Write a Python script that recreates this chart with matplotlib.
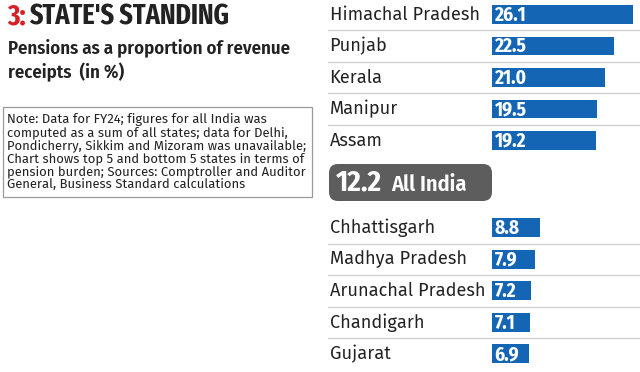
import matplotlib.pyplot as plt
from matplotlib.patches import FancyBboxPatch, Rectangle

# --- Data ---
top_states = ["Himachal Pradesh", "Punjab", "Kerala", "Manipur", "Assam"]
top_values = [26.1, 22.5, 21.0, 19.5, 19.2]
bottom_states = ["Chhattisgarh", "Madhya Pradesh", "Arunachal Pradesh", "Chandigarh", "Gujarat"]
bottom_values = [8.8, 7.9, 7.2, 7.1, 6.9]
all_india = 12.2

note = ("Note: Data for FY24; figures for all India was\n"
        "computed as a sum of all states; data for Delhi,\n"
        "Pondicherry, Sikkim and Mizoram was unavailable;\n"
        "Chart shows top 5 and bottom 5 states in terms of\n"
        "pension burden; Sources: Comptroller and Auditor\n"
        "General, Business Standard calculations")

# --- Style ---
W, H = 640, 372
BLUE = "#1565b5"
RED = "#d71f26"
DARK = "#222222"
GREY_BOX = "#5d5d5d"
SEP = "#cfcfcf"
XCOND = ["Fira Sans Extra Condensed", "DejaVu Sans"]
COND = ["Fira Sans Condensed", "DejaVu Sans"]
BODY = ["Fira Sans", "DejaVu Sans"]

fig = plt.figure(figsize=(6.4, 3.72), dpi=100)

# full-figure overlay in pixel coordinates for the titles / note / badge
bg = fig.add_axes([0, 0, 1, 1])
bg.set_xlim(0, W)
bg.set_ylim(H, 0)
bg.axis("off")

t = bg.text(7, 17, "3:", color=RED, fontsize=20.5, fontweight="bold",
            family=XCOND, va="center", ha="left")
bg.annotate("STATE'S STANDING", xycoords=t, xy=(1, 0.5), xytext=(3, 0),
            textcoords="offset pixels", va="center", ha="left",
            color=DARK, fontsize=20.5, fontweight="bold", family=XCOND)
bg.text(8, 61, "Pensions as a proportion of revenue\nreceipts  (in %)", color=DARK,
        fontsize=13.5, fontweight="semibold", family=COND, va="center", ha="left",
        linespacing=1.3)

bg.add_patch(Rectangle((3, 107), 309, 90, facecolor="white", edgecolor="#9a9a9a", lw=0.9))
bg.text(7, 152, note, color=DARK, fontsize=9.4, family=BODY, va="center",
        ha="left", linespacing=1.02)

# All India badge
bg.add_patch(FancyBboxPatch((329, 164), 163, 37, boxstyle="round,pad=0,rounding_size=9",
                            facecolor=GREY_BOX, edgecolor="none"))
bg.text(336, 183, f"{all_india:.1f}", color="white", fontsize=21, fontweight="bold",
        family=COND, va="center", ha="left")
bg.text(391, 185, "All India", color="white", fontsize=16, fontweight="semibold",
        family=COND, va="center", ha="left")

# --- Bar panels ---
PX_PER_UNIT = 5.4
LEFT_PX, ZERO_PX = 328, 492
x_lo = -(ZERO_PX - LEFT_PX) / PX_PER_UNIT
x_hi = (W - ZERO_PX) / PX_PER_UNIT
ROW_PX = 31.5


def panel(top_px, states, values, y_top_lim):
    n = len(states)
    span = n - 0.5 + y_top_lim
    height_px = span * ROW_PX
    ax = fig.add_axes([LEFT_PX / W, 1 - (top_px + height_px) / H,
                       (W - LEFT_PX) / W, height_px / H])
    ax.set_xlim(x_lo, x_hi)
    ax.set_ylim(n - 0.5, -y_top_lim)
    ax.axis("off")
    ypos = list(range(n))
    ax.barh(ypos, values, height=0.6, color=BLUE, left=0)
    for y, s, v in zip(ypos, states, values):
        ax.text(x_lo + 0.3, y, s, color=DARK, fontsize=13.1, family=BODY,
                va="center", ha="left")
        ax.text(0.5, y + 0.02, f"{v:.1f}", color="white", fontsize=14,
                fontweight="bold", family=COND, va="center", ha="left")
    for y in ypos[:-1]:
        ax.axhline(y + 0.5, color=SEP, lw=0.9)
    return ax


panel(0, top_states, top_values, 0.46)
panel(212, bottom_states, bottom_values, 0.5)

fig.savefig("out.png", dpi=100)
